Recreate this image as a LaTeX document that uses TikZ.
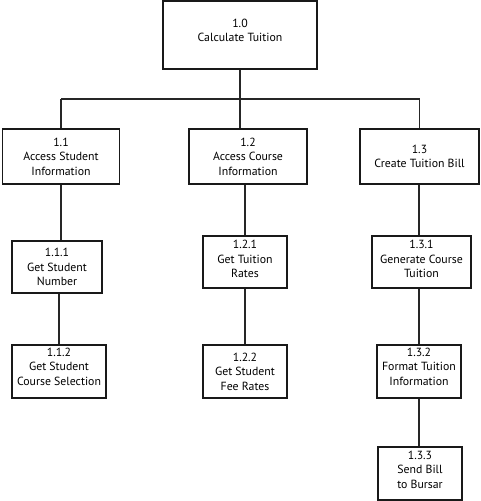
\documentclass[tikz,border=0pt]{standalone}
\usepackage{fontspec}
\setmainfont{PT Sans}
\newcommand{\liftup}[2]{\raisebox{#1}[\height][\depth]{\begin{tabular}{@{}c@{}}#2\end{tabular}}}
\begin{document}
\begin{tikzpicture}[x=1pt,y=-1pt,
  box/.style={draw=black!90,line width=1.3pt,align=center,inner sep=0pt,font=\fontsize{11.8}{14.5}\selectfont},
  conn/.style={draw=black!85,line width=1.3pt}]
\useasboundingbox (0,0) rectangle (480,501);
\node[box,minimum width=154pt,minimum height=68pt] (a10) at (240,35) {\liftup{3.5pt}{1.0\\Calculate Tuition}};
\node[box,minimum width=117pt,minimum height=55pt] (a11) at (61,156.5) {1.1\\Access Student\\Information};
\node[box,minimum width=118pt,minimum height=55pt] (a12) at (248,156.5) {1.2\\Access Course\\Information};
\node[box,minimum width=119pt,minimum height=55pt] (a13) at (419.5,156.5) {1.3\\Create Tuition Bill};
\node[box,minimum width=90pt,minimum height=52pt] (a111) at (57,267) {1.1.1\\Get Student\\Number};
\node[box,minimum width=84pt,minimum height=52pt] (a121) at (245,262) {\liftup{1.5pt}{1.2.1\\Get Tuition\\Rates}};
\node[box,minimum width=99pt,minimum height=52pt] (a131) at (421.5,262) {\liftup{1.5pt}{1.3.1\\Generate Course\\Tuition}};
\node[box,minimum width=94pt,minimum height=53pt] (a112) at (59,371.5) {\liftup{3.5pt}{1.1.2\\Get Student\\Course Selection}};
\node[box,minimum width=84pt,minimum height=53pt] (a122) at (245,371.5) {1.2.2\\Get Student\\Fee Rates};
\node[box,minimum width=84pt,minimum height=53pt] (a132) at (419,371.5) {\liftup{3.5pt}{1.3.2\\Format Tuition\\Information}};
\node[box,minimum width=84pt,minimum height=53pt] (a133) at (420,473.5) {\liftup{2.5pt}{1.3.3\\Send Bill\\to Bursar}};
\coordinate (bus) at (240,99);
\draw[conn] (a10.south) -- (bus);
\draw[conn] (bus -| a11.north) -- (bus -| a13.north);
\draw[conn] (bus -| a11.north) -- (a11.north);
\draw[conn] (bus) -- (bus |- a12.north);
\draw[conn] (bus -| a13.north) -- (a13.north);
\draw[conn] (a11.south) -- (a11.south |- a111.north);
\draw[conn] (a112.north |- a111.south) -- (a112.north);
\draw[conn] (a121.north |- a12.south) -- (a121.north);
\draw[conn] (a121.south) -- (a122.north);
\draw[conn] (a132.north |- a13.south) -- (a132.north |- a131.north);
\draw[conn] (a132.north |- a131.south) -- (a132.north);
\draw[conn] (a132.south) -- (a132.south |- a133.north);
\end{tikzpicture}
\end{document}
